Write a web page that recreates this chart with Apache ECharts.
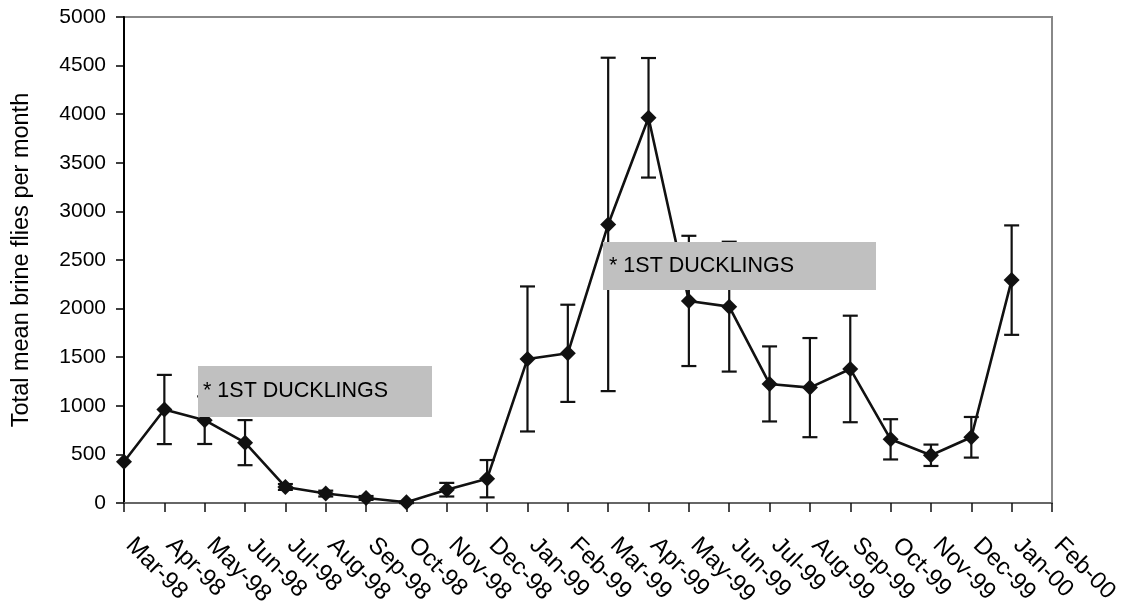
<!DOCTYPE html>
<html>
<head>
<meta charset="utf-8">
<script src="https://cdn.jsdelivr.net/npm/echarts@6/dist/echarts.min.js"></script>
<style>
  html, body { margin: 0; padding: 0; background: #ffffff; }
  #chart { width: 1128px; height: 610px; }
</style>
</head>
<body>
<div id="chart"></div>
<script>
// Monthly brine fly counts, Mar 1998 – Feb 2000
const months = ['Mar-98', 'Apr-98', 'May-98', 'Jun-98', 'Jul-98', 'Aug-98', 'Sep-98', 'Oct-98',
  'Nov-98', 'Dec-98', 'Jan-99', 'Feb-99', 'Mar-99', 'Apr-99', 'May-99', 'Jun-99', 'Jul-99',
  'Aug-99', 'Sep-99', 'Oct-99', 'Nov-99', 'Dec-99', 'Jan-00', 'Feb-00'];

// Mean number of brine flies per month
const meanFlies = [425, 962, 852, 621, 165, 97, 52, 7, 137, 250, 1482, 1540, 2866, 3963,
  2079, 2020, 1225, 1187, 1379, 655, 491, 676, 2293, null];

// Error (+/-) around each monthly mean
const errFlies = [0, 356, 245, 232, 30, 30, 20, 8, 70, 192, 746, 500, 1715, 615,
  670, 668, 386, 510, 548, 207, 110, 209, 563, 0];

// Value axis range
const yMin = 0;
const yMax = 5000;
const yStep = 500;

// Annotation text
const noteText = '* 1ST DUCKLINGS';

const FONT = '"Liberation Sans", Arial, Helvetica, sans-serif';

// [categoryIndex, low, high] for every month that has an error bar
const errorData = [];
months.forEach((m, i) => {
  if (meanFlies[i] != null && errFlies[i] > 0) {
    errorData.push([i, meanFlies[i] - errFlies[i], meanFlies[i] + errFlies[i]]);
  }
});

function renderErrorBar(params, api) {
  const x = api.value(0);
  const lo = api.coord([x, api.value(1)]);
  const hi = api.coord([x, api.value(2)]);
  const half = 7.5;
  const style = { stroke: '#111111', lineWidth: 2.2, fill: null };
  return {
    type: 'group',
    children: [
      { type: 'line', shape: { x1: lo[0], y1: lo[1], x2: hi[0], y2: hi[1] }, style: style },
      { type: 'line', shape: { x1: lo[0] - half, y1: lo[1], x2: lo[0] + half, y2: lo[1] }, style: style },
      { type: 'line', shape: { x1: hi[0] - half, y1: hi[1], x2: hi[0] + half, y2: hi[1] }, style: style }
    ]
  };
}

// Grey note box with its label, drawn above the data
function noteBox(left, top, width, height, textX) {
  return {
    type: 'group', left: left, top: top, zlevel: 1,
    children: [
      { type: 'rect', zlevel: 1, z: 100, shape: { x: 0, y: 0, width: width, height: height },
        style: { fill: '#c0c0c0' } },
      { type: 'text', zlevel: 1, z: 101, x: textX, y: height / 2,
        style: { text: noteText, fill: '#000000', font: '21.5px ' + FONT, verticalAlign: 'middle' } }
    ]
  };
}

const chart = echarts.init(document.getElementById('chart'), null, { renderer: 'canvas' });

chart.setOption({
  animation: false,
  backgroundColor: '#ffffff',
  textStyle: { fontFamily: FONT },
  grid: {
    left: 124, right: 76, top: 17, bottom: 107,
    show: true, borderColor: '#888888', borderWidth: 2, backgroundColor: 'transparent'
  },
  xAxis: {
    type: 'category',
    data: months,
    boundaryGap: false,
    axisLine: { show: true, lineStyle: { color: '#666666', width: 2 } },
    axisTick: { show: true, inside: false, length: 9, alignWithLabel: true,
      lineStyle: { color: '#111111', width: 1.5 } },
    axisLabel: {
      interval: 0, rotate: -45, margin: 33, padding: [0, 0, 0, 8],
      color: '#000000', fontSize: 24, fontFamily: FONT
    },
    splitLine: { show: false }
  },
  yAxis: {
    type: 'value',
    min: yMin, max: yMax, interval: yStep,
    name: 'Total mean brine flies per month',
    nameLocation: 'middle',
    nameRotate: 90,
    nameGap: 90,
    nameTextStyle: { color: '#000000', fontSize: 23.5, fontFamily: FONT },
    axisLine: { show: true, lineStyle: { color: '#000000', width: 2 } },
    axisTick: { show: true, length: 8, lineStyle: { color: '#000000', width: 1.5 } },
    axisLabel: { color: '#000000', fontSize: 21, margin: 18, fontFamily: FONT,
      formatter: function (v) { return String(v); } },
    splitLine: { show: false }
  },
  series: [
    {
      name: 'Mean',
      type: 'line',
      data: meanFlies,
      symbol: 'diamond',
      symbolSize: [16, 16],
      showSymbol: true,
      connectNulls: false,
      lineStyle: { color: '#111111', width: 2.6 },
      itemStyle: { color: '#111111', borderWidth: 0 },
      z: 3
    },
    {
      name: 'Error',
      type: 'custom',
      data: errorData,
      encode: { x: 0, y: [1, 2] },
      renderItem: renderErrorBar,
      z: 2
    }
  ],
  graphic: [
    noteBox(198, 366, 234, 51, 5),
    noteBox(603, 242, 273, 48, 6)
  ]
});
</script>
</body>
</html>
